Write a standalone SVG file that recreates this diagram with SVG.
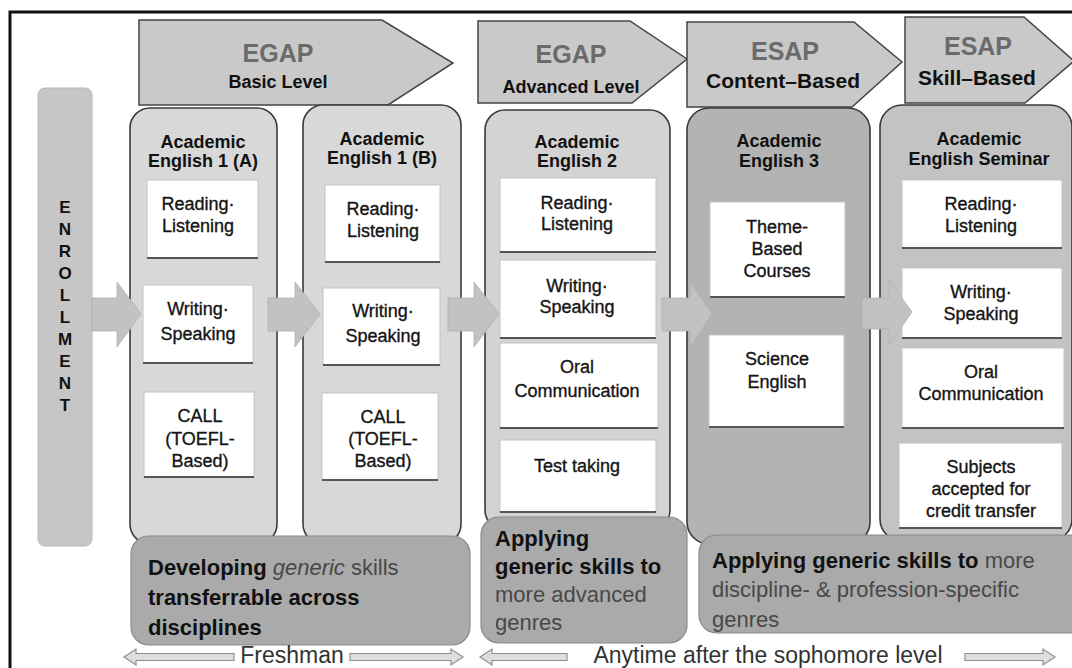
<svg xmlns="http://www.w3.org/2000/svg" width="1072" height="668" viewBox="0 0 1072 668">
<style>
text{font-family:"Liberation Sans",Arial,sans-serif}
.frame{fill:none;stroke:#111;stroke-width:3}
.hdr{fill:#c9c9c9;stroke:#444;stroke-width:1.5}
.big{font-size:25px;font-weight:bold;fill:#6b6b6b;text-anchor:middle}
.sub{font-size:18px;font-weight:bold;fill:#111;text-anchor:middle}
.sub2{font-size:21px;font-weight:bold;fill:#111;text-anchor:middle}
.col{stroke:#3a3a3a;stroke-width:1.6}
.ttl{font-size:18px;font-weight:bold;fill:#111;text-anchor:middle}
.box{fill:#fff;stroke:#c4c4c4;stroke-width:1}
.sh{stroke:#555;stroke-width:2}
.bt{font-size:18px;fill:#151515;stroke:#151515;stroke-width:0.35;text-anchor:middle}
.ban{fill:#aaaaaa;stroke:#8a8a8a;stroke-width:1.2}
.bb{font-size:22px;font-weight:bold;fill:#111}
.bg{font-size:22px;fill:#484848}
.blk{fill:#c2c2c2;stroke:#b0b0b0;stroke-width:0.8}
.tl{fill:#dedede;stroke:#8f8f8f;stroke-width:1.2}
.tt{font-size:23px;fill:#333;text-anchor:middle}
.enr{font-size:17px;font-weight:bold;fill:#111;text-anchor:middle}
</style>

<rect x="0" y="0" width="1072" height="668" fill="#fff"/>
<path class="frame" d="M10,668 V12 H1072"/>

<g id="enrollment">
  <rect x="38" y="88" width="54" height="458" rx="7" fill="#c6c6c6" stroke="#b8b8b8" stroke-width="1"/>
  <text class="enr" x="65" y="213">E</text>
  <text class="enr" x="65" y="235">N</text>
  <text class="enr" x="65" y="257">R</text>
  <text class="enr" x="65" y="279">O</text>
  <text class="enr" x="65" y="301">L</text>
  <text class="enr" x="65" y="323">L</text>
  <text class="enr" x="65" y="345">M</text>
  <text class="enr" x="65" y="367">E</text>
  <text class="enr" x="65" y="389">N</text>
  <text class="enr" x="65" y="411">T</text>
</g>

<g id="hdr-egap-basic">
  <polygon class="hdr" points="139,20 382,20 453,63 388,105 139,105"/>
  <text class="big" x="278" y="62">EGAP</text>
  <text class="sub" x="278" y="88">Basic Level</text>
</g>
<g id="hdr-egap-advanced">
  <polygon class="hdr" points="478,21 630,21 687,59 632,103 478,103"/>
  <text class="big" x="571" y="63">EGAP</text>
  <text class="sub" x="571" y="93">Advanced Level</text>
</g>
<g id="hdr-esap-content">
  <polygon class="hdr" points="687,22 854,22 902,62 852,107 687,107"/>
  <text class="big" x="785" y="60">ESAP</text>
  <text class="sub2" x="783" y="88">Content–Based</text>
</g>
<g id="hdr-esap-skill">
  <polygon class="hdr" points="905,17 1024,17 1074,61 1025,103 905,103"/>
  <text class="big" x="978" y="55">ESAP</text>
  <text class="sub2" x="977" y="85">Skill–Based</text>
</g>

<g id="col-ae1a">
  <rect class="col" x="130" y="108" width="147" height="436" rx="20" fill="#d8d8d8"/>
  <text class="ttl" x="203" y="148">Academic</text>
  <text class="ttl" x="203" y="167">English 1 (A)</text>
  <rect class="box" x="147" y="180" width="111" height="78"/><line class="sh" x1="147" y1="258" x2="258" y2="258"/>
  <text class="bt" x="198" y="210">Reading·</text><text class="bt" x="198" y="232">Listening</text>
  <rect class="box" x="143" y="285" width="110" height="78"/><line class="sh" x1="143" y1="363" x2="253" y2="363"/>
  <text class="bt" x="198" y="315">Writing·</text><text class="bt" x="198" y="340">Speaking</text>
  <rect class="box" x="144" y="392" width="110" height="85"/><line class="sh" x1="144" y1="477" x2="254" y2="477"/>
  <text class="bt" x="200" y="422">CALL</text><text class="bt" x="200" y="445">(TOEFL-</text><text class="bt" x="200" y="467">Based)</text>
</g>

<g id="col-ae1b">
  <rect class="col" x="303" y="105" width="158" height="439" rx="20" fill="#d8d8d8"/>
  <text class="ttl" x="382" y="145">Academic</text>
  <text class="ttl" x="382" y="164">English 1 (B)</text>
  <rect class="box" x="325" y="185" width="115" height="77"/><line class="sh" x1="325" y1="262" x2="440" y2="262"/>
  <text class="bt" x="383" y="215">Reading·</text><text class="bt" x="383" y="237">Listening</text>
  <rect class="box" x="323" y="288" width="117" height="77"/><line class="sh" x1="323" y1="365" x2="440" y2="365"/>
  <text class="bt" x="383" y="317">Writing·</text><text class="bt" x="383" y="342">Speaking</text>
  <rect class="box" x="322" y="393" width="116" height="87"/><line class="sh" x1="322" y1="480" x2="438" y2="480"/>
  <text class="bt" x="383" y="423">CALL</text><text class="bt" x="383" y="445">(TOEFL-</text><text class="bt" x="383" y="467">Based)</text>
</g>

<g id="col-ae2">
  <rect class="col" x="485" y="110" width="185" height="420" rx="20" fill="#d3d3d3"/>
  <text class="ttl" x="577" y="148">Academic</text>
  <text class="ttl" x="577" y="167">English 2</text>
  <rect class="box" x="500" y="178" width="156" height="74"/><line class="sh" x1="500" y1="252" x2="656" y2="252"/>
  <text class="bt" x="577" y="209">Reading·</text><text class="bt" x="577" y="230">Listening</text>
  <rect class="box" x="500" y="260" width="156" height="78"/><line class="sh" x1="500" y1="338" x2="656" y2="338"/>
  <text class="bt" x="577" y="292">Writing·</text><text class="bt" x="577" y="313">Speaking</text>
  <rect class="box" x="500" y="343" width="158" height="85"/><line class="sh" x1="500" y1="428" x2="658" y2="428"/>
  <text class="bt" x="577" y="373">Oral</text><text class="bt" x="577" y="397">Communication</text>
  <rect class="box" x="500" y="440" width="156" height="72"/><line class="sh" x1="500" y1="512" x2="656" y2="512"/>
  <text class="bt" x="577" y="472">Test taking</text>
</g>

<g id="col-ae3">
  <rect class="col" x="687" y="108" width="183" height="436" rx="22" fill="#b3b3b3"/>
  <text class="ttl" x="779" y="147">Academic</text>
  <text class="ttl" x="779" y="167">English 3</text>
  <rect class="box" x="710" y="202" width="135" height="95"/><line class="sh" x1="710" y1="297" x2="845" y2="297"/>
  <text class="bt" x="777" y="233">Theme-</text><text class="bt" x="777" y="255">Based</text><text class="bt" x="777" y="277">Courses</text>
  <rect class="box" x="709" y="335" width="135" height="92"/><line class="sh" x1="709" y1="427" x2="844" y2="427"/>
  <text class="bt" x="777" y="365">Science</text><text class="bt" x="777" y="388">English</text>
</g>

<g id="col-aes">
  <rect class="col" x="880" y="105" width="192" height="436" rx="22" fill="#c3c3c3"/>
  <text class="ttl" x="979" y="145">Academic</text>
  <text class="ttl" x="979" y="165">English Seminar</text>
  <rect class="box" x="902" y="180" width="160" height="68"/><line class="sh" x1="902" y1="248" x2="1062" y2="248"/>
  <text class="bt" x="981" y="210">Reading·</text><text class="bt" x="981" y="232">Listening</text>
  <rect class="box" x="902" y="268" width="160" height="70"/><line class="sh" x1="902" y1="338" x2="1062" y2="338"/>
  <text class="bt" x="981" y="298">Writing·</text><text class="bt" x="981" y="320">Speaking</text>
  <rect class="box" x="902" y="348" width="162" height="80"/><line class="sh" x1="902" y1="428" x2="1064" y2="428"/>
  <text class="bt" x="981" y="378">Oral</text><text class="bt" x="981" y="400">Communication</text>
  <rect class="box" x="899" y="443" width="163" height="85"/><line class="sh" x1="899" y1="528" x2="1062" y2="528"/>
  <text class="bt" x="981" y="473">Subjects</text><text class="bt" x="981" y="495">accepted for</text><text class="bt" x="981" y="517">credit transfer</text>
</g>

<g id="connectors">
  <path class="blk" d="M92,298 H117 V282 L141,314 L117,347 V331 H92 Z"/>
  <path class="blk" d="M268,298 H295 V282 L320,314 L295,347 V331 H268 Z"/>
  <path class="blk" d="M448,298 H474 V282 L499,314 L474,347 V331 H448 Z"/>
  <path class="blk" d="M662,298 H690 V282 L712,314 L690,347 V331 H662 Z"/>
  <path class="blk" d="M862,298 H889 V280 L912,312 L889,345 V329 H862 Z"/>
</g>

<g id="banner-generic">
  <rect class="ban" x="131" y="536" width="339" height="109" rx="18"/>
  <text x="148" y="575"><tspan class="bb">Developing </tspan><tspan class="bg" font-style="italic"> generic</tspan><tspan class="bg"> skills</tspan></text>
  <text class="bb" x="148" y="605">transferrable across</text>
  <text class="bb" x="148" y="635">disciplines</text>
</g>

<g id="banner-advanced">
  <rect class="ban" x="481" y="517" width="206" height="126" rx="18"/>
  <text class="bb" x="495" y="546">Applying</text>
  <text class="bb" x="495" y="574">generic skills to</text>
  <text class="bg" x="495" y="602">more advanced</text>
  <text class="bg" x="495" y="630">genres</text>
</g>

<g id="banner-specific">
  <rect class="ban" x="699" y="535" width="390" height="98" rx="18"/>
  <text x="712" y="568"><tspan class="bb">Applying generic skills to </tspan><tspan class="bg">more</tspan></text>
  <text class="bg" x="712" y="597">discipline- &amp; profession-specific</text>
  <text class="bg" x="712" y="627">genres</text>
</g>

<g id="timeline">
  <path class="tl" d="M124,657 L136,649 V653.5 H234 V660.5 H136 V665 Z"/>
  <text class="tt" x="292" y="663">Freshman</text>
  <path class="tl" d="M350,653.5 H451 V649 L463,657 L451,665 V660.5 H350 Z"/>
  <path class="tl" d="M480,657 L492,649 V653.5 H567 V660.5 H492 V665 Z"/>
  <text class="tt" x="768" y="663">Anytime after the sophomore level</text>
  <path class="tl" d="M965,653.5 H1043 V649 L1055,657 L1043,665 V660.5 H965 Z"/>
</g>
</svg>
